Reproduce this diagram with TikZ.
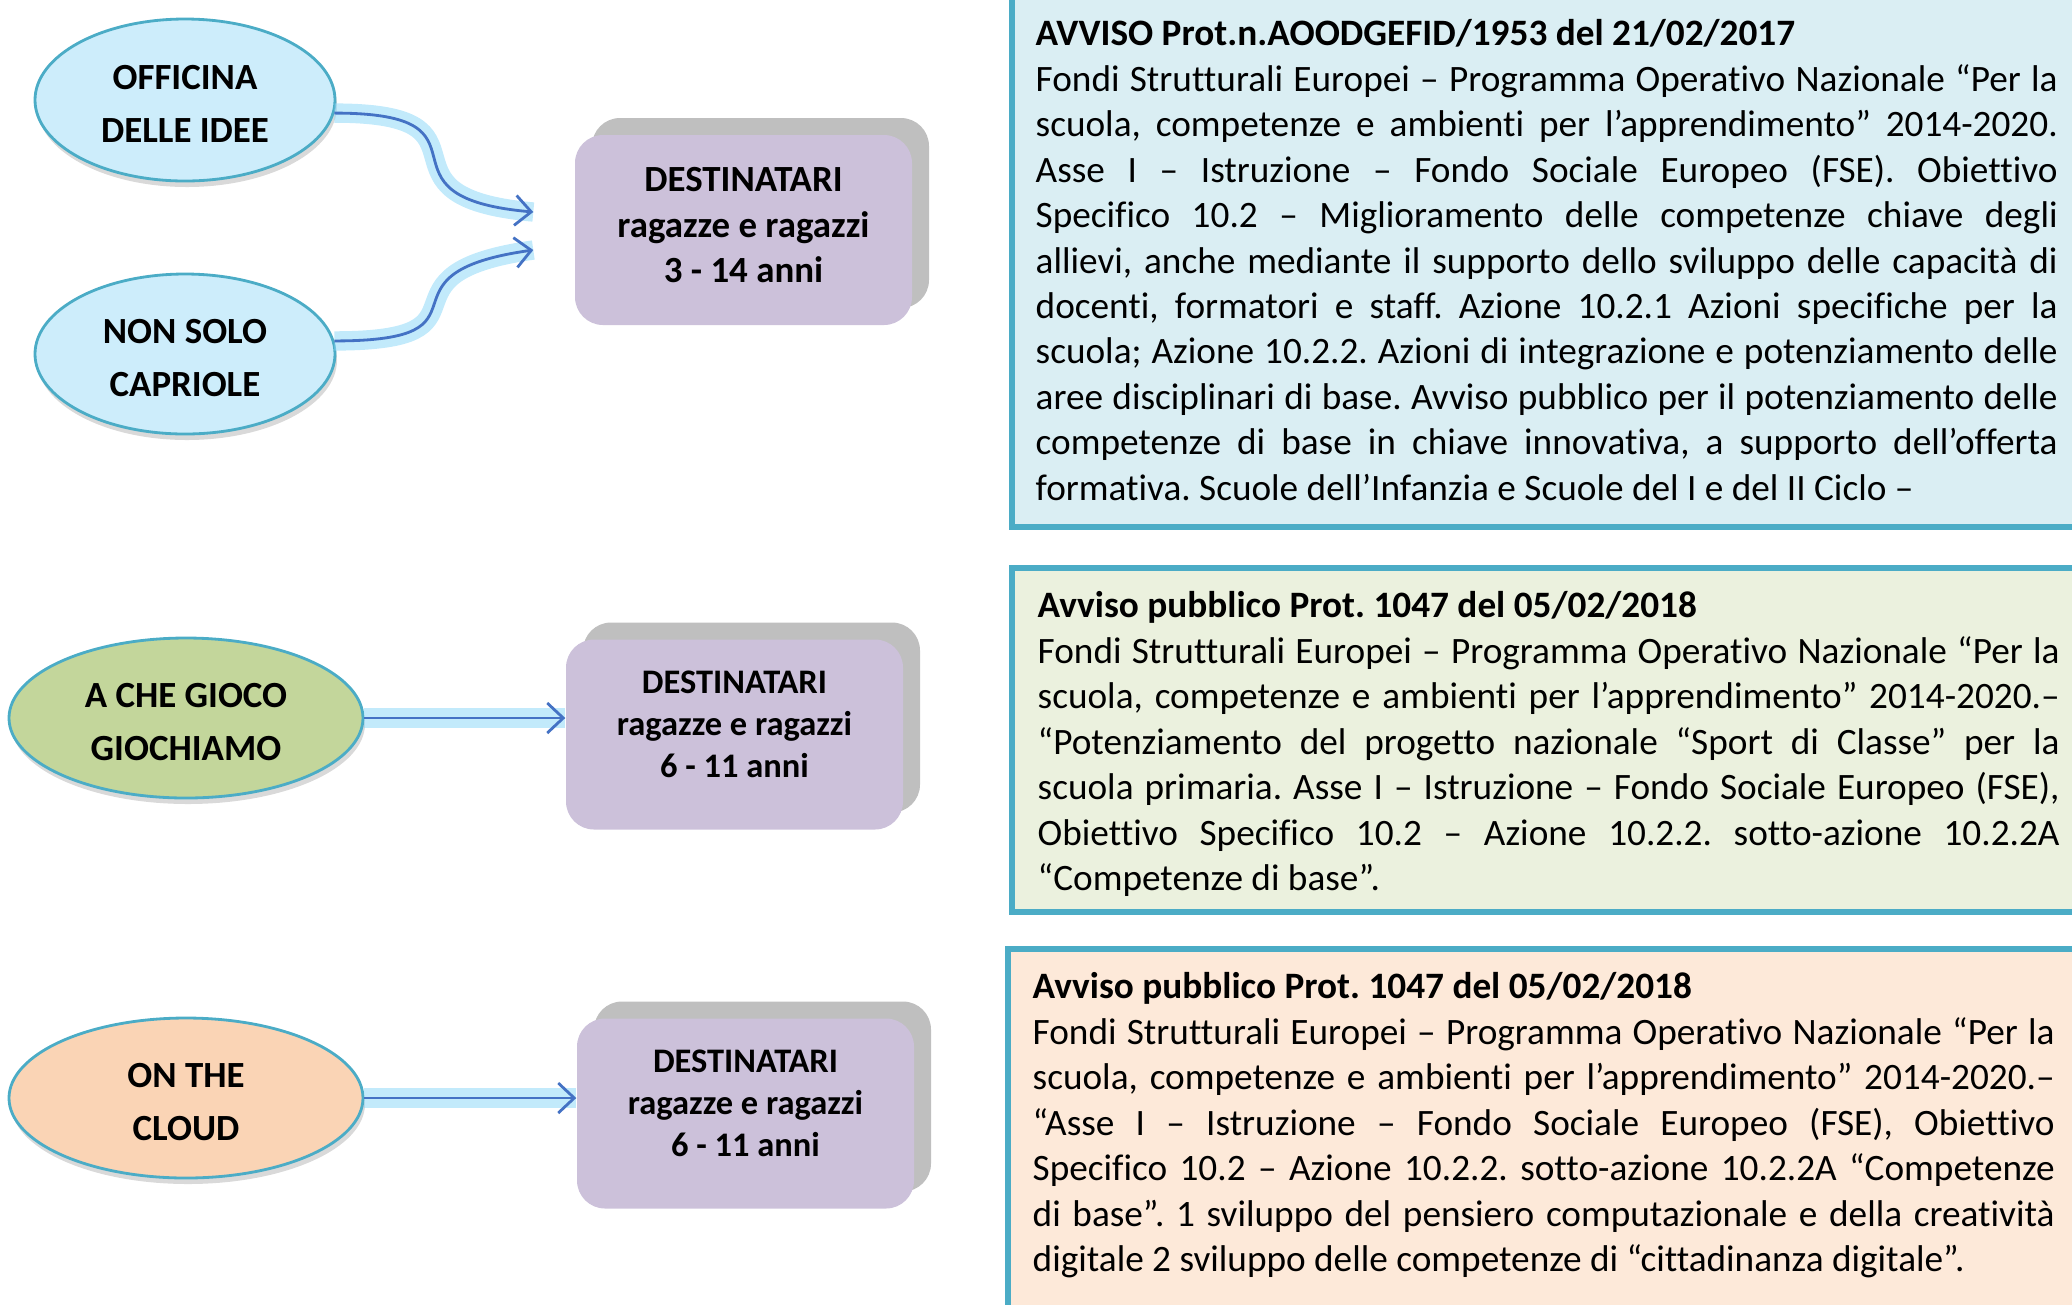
\documentclass[tikz,border=0pt]{standalone}
\usepackage{fontspec}
\setmainfont{Carlito}[Ligatures={TeX,NoCommon}]
\usetikzlibrary{shapes.geometric,shadows,arrows.meta}
\definecolor{bordo}{HTML}{4BACC6}
\definecolor{azzurro}{HTML}{CDEDFB}
\definecolor{verde}{HTML}{C3D69B}
\definecolor{pesca}{HTML}{FAD4B5}
\definecolor{lilla}{HTML}{CCC1DA}
\definecolor{grigio}{HTML}{BFBFBF}
\definecolor{fondoA}{HTML}{DAEEF3}
\definecolor{fondoB}{HTML}{EBF1DE}
\definecolor{fondoC}{HTML}{FDE9D9}
\definecolor{blu}{HTML}{4472C4}
\definecolor{alone}{HTML}{8FD8F8}
\hyphenpenalty=10000
\frenchspacing
\begin{document}
\begin{tikzpicture}[>={Straight Barb[length=1.6mm,width=3mm]},
	progetto/.style={ellipse, draw=bordo, line width=0.8pt, inner sep=0pt, align=center,
		font=\bfseries\fontsize{10.5}{15}\selectfont, text height=24pt,
		drop shadow={shadow xshift=0.02cm, shadow yshift=-0.06cm, opacity=0.3}},
	destinatari/.style={rounded corners=0.28cm, fill=lilla, minimum width=3.37cm, minimum height=1.9cm,
		align=center, font=\bfseries\fontsize{10.5}{12.9}\selectfont, text depth=0.1cm,
		general shadow={fill=grigio, shadow xshift=0.17cm, shadow yshift=0.17cm}},
	piccolo/.style={font=\bfseries\fontsize{9.8}{12}\selectfont, text depth=0.2cm},
	avviso/.style={anchor=north west, inner sep=0pt, text width=10.22cm, align=justify,
		font=\fontsize{10.6}{12.93}\selectfont},
	freccia/.style={->, draw=blu, line width=0.8pt, preaction={draw=alone, -, line width=5.5pt, opacity=0.55}}]
		\useasboundingbox (0,0) rectangle (20.72,-13.04);
		\clip (0,0) rectangle (20.72,-13.04);
		\draw[fill=fondoA, draw=bordo, line width=1.5pt] (10.12,0.3) rectangle (21.2,-5.27);
		\draw[fill=fondoB, draw=bordo, line width=1.5pt] (10.12,-5.68) rectangle (21.2,-9.12);
		\draw[fill=fondoC, draw=bordo, line width=1.5pt] (10.08,-9.49) rectangle (21.2,-13.4);
		\node[progetto, fill=azzurro, minimum width=3.0cm, minimum height=1.62cm] (ide) at (1.85,-1.00) {OFFICINA\\DELLE IDEE};
		\node[progetto, fill=azzurro, minimum width=3.0cm, minimum height=1.60cm] (cap) at (1.85,-3.54) {NON SOLO\\CAPRIOLE};
		\node[progetto, fill=verde, minimum width=3.54cm, minimum height=1.60cm] (gio) at (1.86,-7.18) {A CHE GIOCO\\GIOCHIAMO};
		\node[progetto, fill=pesca, minimum width=3.54cm, minimum height=1.60cm] (cld) at (1.86,-10.98) {ON THE\\CLOUD};
		\node[destinatari] (d1) at (7.435,-2.30) {DESTINATARI\\ragazze e ragazzi\\3 - 14 anni};
		\node[destinatari, piccolo] (d2) at (7.345,-7.345) {DESTINATARI\\ragazze e ragazzi\\6 - 11 anni};
		\node[destinatari, piccolo] (d3) at (7.455,-11.135) {DESTINATARI\\ragazze e ragazzi\\6 - 11 anni};
		\coordinate (in1) at ([xshift=-0.41cm, yshift=0.18cm]d1.west);
		\coordinate (in2) at ([xshift=-0.41cm, yshift=-0.20cm]d1.west);
		\draw[freccia] (ide.-5) to[out=0, in=175, looseness=2] (in1);
		\draw[freccia] (cap.5) to[out=0, in=188, looseness=2] (in2);
		\draw[freccia] (gio.east) -- (gio.east -| d2.west);
		\draw[freccia] (cld.east) -- (cld.east -| d3.west);
		\node[avviso] (tA) at (10.35,-0.19) {\textbf{AVVISO Prot.n.AOODGEFID/1953 del 21/02/2017}\\
			Fondi Strutturali Europei – Programma Operativo Nazionale “Per la\linebreak
			scuola, competenze e ambienti per l’apprendimento” 2014-2020.\linebreak
			Asse I – Istruzione – Fondo Sociale Europeo (FSE). Obiettivo\linebreak
			Specifico 10.2 – Miglioramento delle competenze chiave degli\linebreak
			allievi, anche mediante il supporto dello sviluppo delle capacità di\linebreak
			docenti, formatori e staff. Azione 10.2.1 Azioni specifiche per la\linebreak
			scuola; Azione 10.2.2. Azioni di integrazione e potenziamento delle\linebreak
			aree disciplinari di base. Avviso pubblico per il potenziamento delle\linebreak
			competenze di base in chiave innovativa, a supporto dell’offerta\linebreak
			formativa. Scuole dell’Infanzia e Scuole del I e del II Ciclo –};
		\node[avviso] (tB) at (10.37,-5.91) {\textbf{Avviso pubblico Prot. 1047 del 05/02/2018}\\
			Fondi Strutturali Europei – Programma Operativo Nazionale “Per la\linebreak
			scuola, competenze e ambienti per l’apprendimento” 2014-2020.–\linebreak
			“Potenziamento del progetto nazionale “Sport di Classe” per la\linebreak
			scuola primaria. Asse I – Istruzione – Fondo Sociale Europeo (FSE),\linebreak
			Obiettivo Specifico 10.2 – Azione 10.2.2. sotto-azione 10.2.2A\linebreak
			“Competenze di base”.};
		\node[avviso] (tC) at (10.32,-9.72) {\textbf{Avviso pubblico Prot. 1047 del 05/02/2018}\\
			Fondi Strutturali Europei – Programma Operativo Nazionale “Per la\linebreak
			scuola, competenze e ambienti per l’apprendimento” 2014-2020.–\linebreak
			“Asse I – Istruzione – Fondo Sociale Europeo (FSE), Obiettivo\linebreak
			Specifico 10.2 – Azione 10.2.2. sotto-azione 10.2.2A “Competenze\linebreak
			di base”. 1 sviluppo del pensiero computazionale e della creatività\linebreak
			digitale 2 sviluppo delle competenze di “cittadinanza digitale”.};
\end{tikzpicture}
\end{document}
